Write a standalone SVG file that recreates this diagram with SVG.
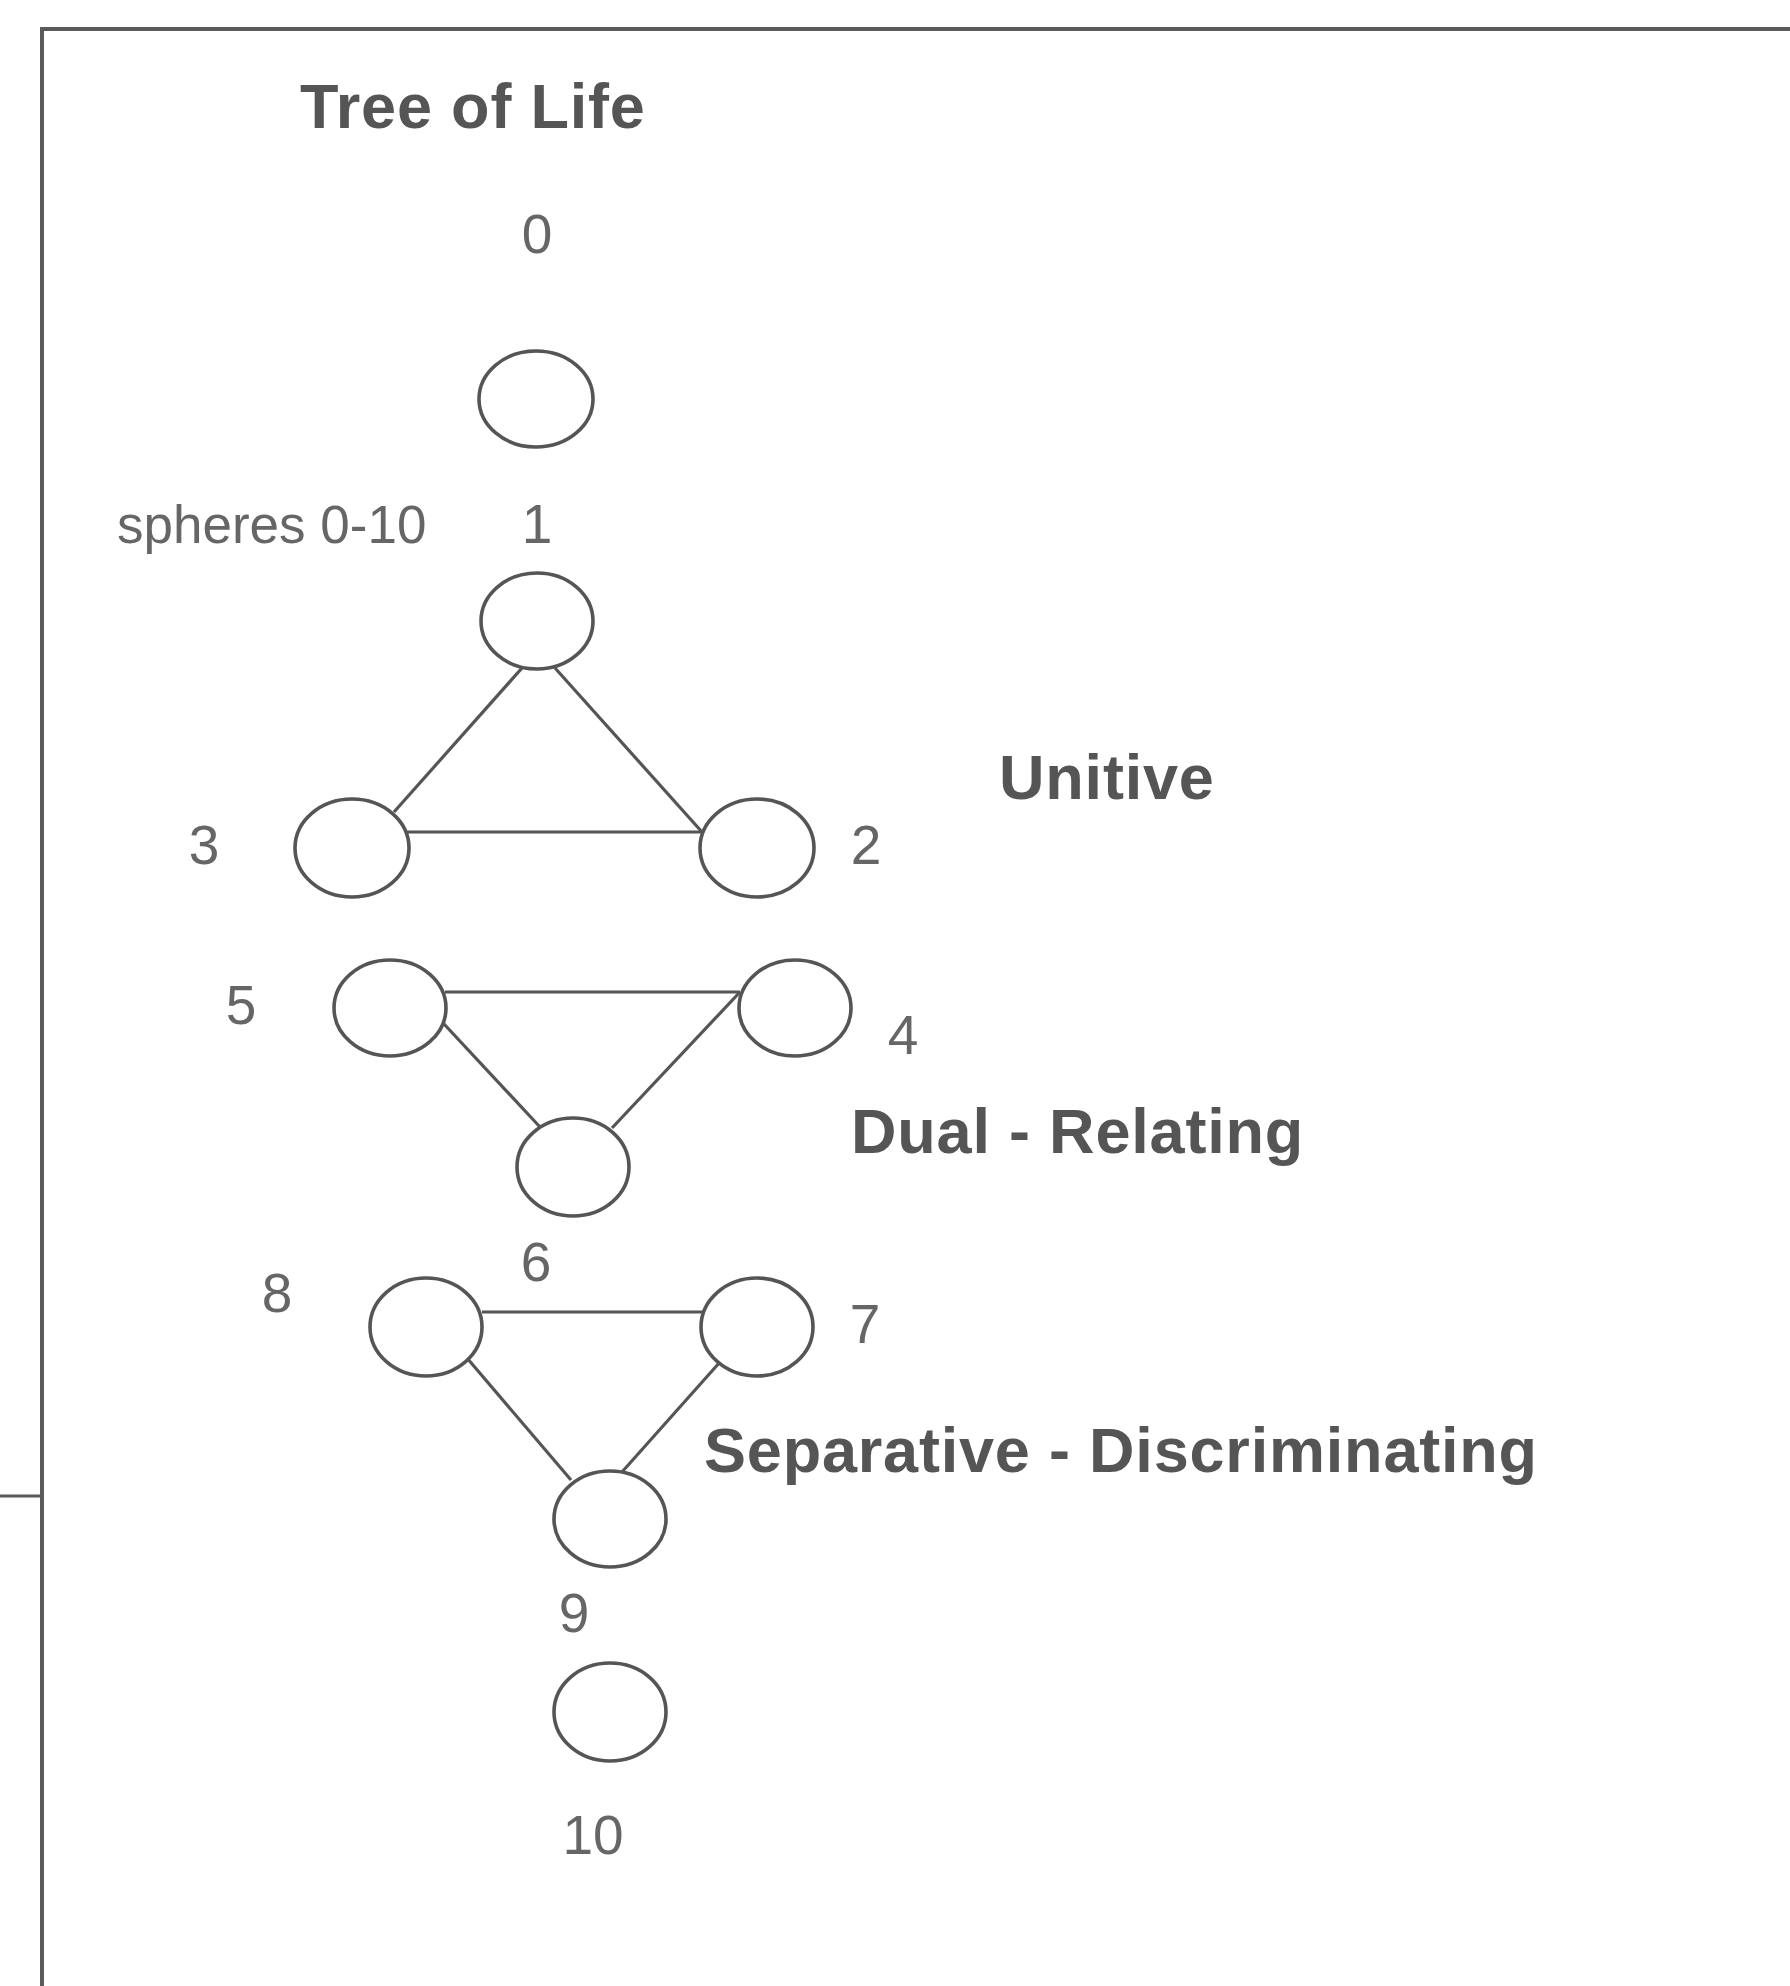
<svg xmlns="http://www.w3.org/2000/svg" width="1790" height="1986" viewBox="0 0 1790 1986">
<style>
.frame{stroke:#5a5a5a;stroke-width:4;fill:none}
.sph{fill:#fff;stroke:#555;stroke-width:3.6}
.edge{stroke:#555;stroke-width:3.2;fill:none}
.num{font-family:"Liberation Sans",Arial,sans-serif;font-size:55px;fill:#666;text-anchor:middle}
.small{font-family:"Liberation Sans",Arial,sans-serif;font-size:53px;fill:#666}
.head{font-family:"Liberation Sans",Arial,sans-serif;font-size:63px;font-weight:bold;fill:#555;letter-spacing:0.8px}
</style>
<rect width="1790" height="1986" fill="#fff"/>
<g id="frame">
<line class="frame" x1="42" y1="29" x2="1790" y2="29"/>
<line class="frame" x1="42" y1="27" x2="42" y2="1986"/>
<line class="frame" x1="0" y1="1496" x2="42" y2="1496" style="stroke-width:3"/>
</g>
<g id="titles">
<text class="head" x="300" y="128">Tree of Life</text>
<text class="small" x="117" y="543">spheres 0-10</text>
<text class="head" x="999" y="799">Unitive</text>
<text class="head" x="851" y="1153">Dual - Relating</text>
<text class="head" x="704" y="1472">Separative - Discriminating</text>
</g>
<g id="connectors">
<line class="edge" x1="522" y1="668" x2="394" y2="812"/>
<line class="edge" x1="555" y1="668" x2="702" y2="832"/>
<line class="edge" x1="406" y1="832" x2="702" y2="832"/>
<line class="edge" x1="445" y1="992" x2="740" y2="992"/>
<line class="edge" x1="444" y1="1024" x2="540" y2="1127"/>
<line class="edge" x1="740" y1="992" x2="612" y2="1128"/>
<line class="edge" x1="482" y1="1312" x2="703" y2="1312"/>
<line class="edge" x1="467" y1="1358" x2="571" y2="1480"/>
<line class="edge" x1="720" y1="1362" x2="622" y2="1472"/>
</g>
<g id="node-0"><ellipse class="sph" cx="536" cy="399" rx="57" ry="48"/><text class="num" x="537" y="253">0</text></g>
<g id="node-1"><ellipse class="sph" cx="537" cy="621" rx="56" ry="48"/><text class="num" x="537" y="543">1</text></g>
<g id="node-2"><ellipse class="sph" cx="757" cy="848" rx="57" ry="49"/><text class="num" x="866" y="864">2</text></g>
<g id="node-3"><ellipse class="sph" cx="352" cy="848" rx="57" ry="49"/><text class="num" x="204" y="864">3</text></g>
<g id="node-4"><ellipse class="sph" cx="795" cy="1008" rx="56" ry="48"/><text class="num" x="903" y="1054">4</text></g>
<g id="node-5"><ellipse class="sph" cx="390" cy="1008" rx="56" ry="48"/><text class="num" x="241" y="1024">5</text></g>
<g id="node-6"><ellipse class="sph" cx="573" cy="1167" rx="56" ry="49"/><text class="num" x="536" y="1281">6</text></g>
<g id="node-7"><ellipse class="sph" cx="757" cy="1327" rx="56" ry="49"/><text class="num" x="865" y="1343">7</text></g>
<g id="node-8"><ellipse class="sph" cx="426" cy="1327" rx="56" ry="49"/><text class="num" x="277" y="1312">8</text></g>
<g id="node-9"><ellipse class="sph" cx="610" cy="1519" rx="56" ry="48"/><text class="num" x="574" y="1632">9</text></g>
<g id="node-10"><ellipse class="sph" cx="610" cy="1712" rx="56" ry="49"/><text class="num" x="593" y="1854">10</text></g>
</svg>
